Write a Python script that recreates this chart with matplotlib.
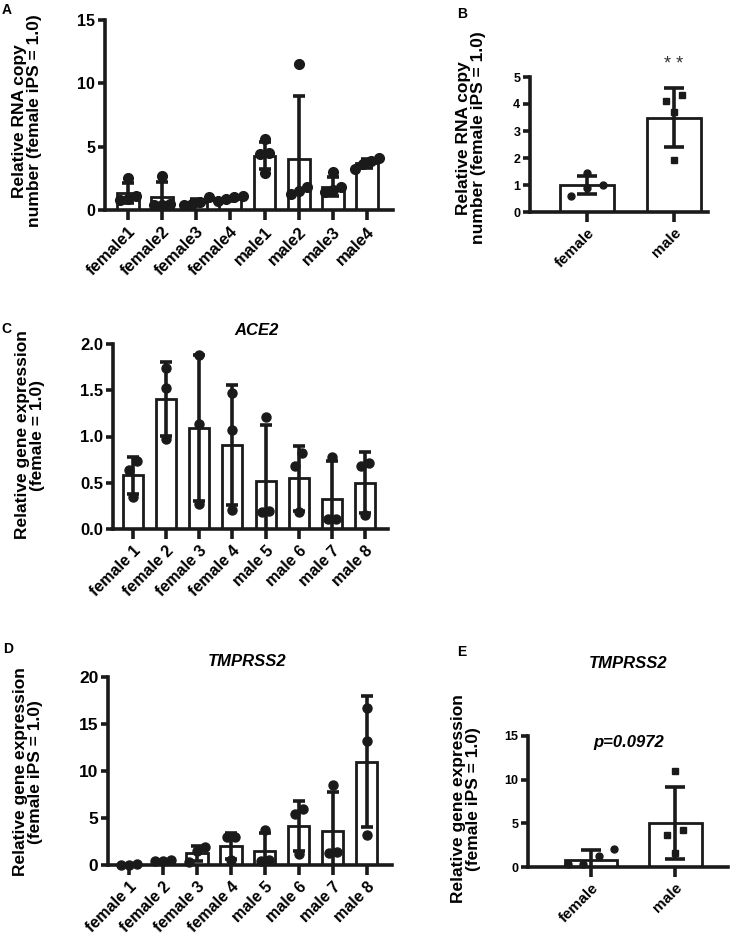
import matplotlib
matplotlib.use("Agg")
import matplotlib.pyplot as plt
import numpy as np

plt.rcParams['font.family'] = ['Liberation Sans', 'DejaVu Sans']
plt.rcParams['font.weight'] = 'bold'

# panel A
a_cats = ['female1', 'female2', 'female3', 'female4', 'male1', 'male2', 'male3', 'male4']
a_mean = [1.35, 1.0, 0.6, 0.9, 4.3, 4.0, 1.85, 3.7]
a_sd = [0.8, 1.2, 0.25, 0.15, 1.1, 5.0, 0.72, 0.35]
a_pts = [[2.5, 1.1, 0.9, 0.8], [2.7, 0.5, 0.4, 0.4], [1.0, 0.6, 0.5, 0.4], [1.1, 1.0, 0.9, 0.7],
         [5.6, 4.5, 4.4, 2.9], [11.5, 1.8, 1.5, 1.3], [3.0, 1.8, 1.6, 1.4], [4.1, 3.9, 3.6, 3.2]]

# panel B
b_cats = ['female', 'male']
b_mean = [1.0, 3.5]
b_sd = [0.35, 1.1]
b_pts = [[1.45, 1.0, 0.9, 0.6], [4.32, 4.1, 3.7, 1.91]]

# panel C (ACE2)
cd_cats = ['female 1', 'female 2', 'female 3', 'female 4', 'male 5', 'male 6', 'male 7', 'male 8']
c_mean = [0.58, 1.41, 1.09, 0.91, 0.52, 0.55, 0.32, 0.50]
c_sd = [0.2, 0.4, 0.79, 0.65, 0.6, 0.35, 0.41, 0.33]
c_pts = [[0.74, 0.64, 0.35], [1.74, 1.52, 0.97], [1.88, 1.13, 0.27], [1.47, 1.07, 0.21],
         [1.21, 0.19, 0.18], [0.82, 0.68, 0.18], [0.78, 0.11, 0.11], [0.71, 0.68, 0.15]]

# panel D (TMPRSS2)
d_mean = [0.05, 0.4, 1.23, 2.05, 1.5, 4.15, 3.65, 11.0]
d_sd = [0.05, 0.1, 0.8, 1.4, 1.9, 2.7, 4.1, 7.0]
d_pts = [[0.1, 0.05, 0.05], [0.5, 0.4, 0.4], [1.9, 1.5, 0.3], [3.0, 3.0, 0.5],
         [3.7, 0.5, 0.4], [5.96, 5.4, 1.2], [8.5, 1.3, 1.4], [16.7, 13.2, 3.2]]

# panel E (TMPRSS2 pooled)
e_cats = ['female', 'male']
e_mean = [0.85, 5.05]
e_sd = [1.1, 4.1]
e_pts = [[2.1, 1.25, 0.35, 0.3], [11.04, 4.2, 3.7, 1.56]]

W, H = 736, 944
fig = plt.figure(figsize=(W / 100, H / 100), dpi=100)
K = '#1a1a1a'


def box(l, t, r, b):
    return [l / W, 1 - b / H, (r - l) / W, (b - t) / H]


def spread(vals, tol, step):
    order = sorted(range(len(vals)), key=lambda i: vals[i])
    xs = [0.0] * len(vals)
    groups, cur = [], [order[0]]
    for i in order[1:]:
        if vals[i] - vals[cur[-1]] < tol:
            cur.append(i)
        else:
            groups.append(cur)
            cur = [i]
    groups.append(cur)
    for g in groups:
        for k, i in enumerate(g):
            xs[i] = (k - (len(g) - 1) / 2) * step
    return xs


def panel(ax, cats, means, sds, pts, xlim, ylim, yticks, markers, ms, step,
          bw=0.62, fs=10, xfs=10, cap=4, fmt=None):
    x = np.arange(len(cats))
    ax.bar(x, means, width=bw, color='white', edgecolor=K, linewidth=2, zorder=1)
    ax.errorbar(x, means, yerr=sds, fmt='none', ecolor=K, elinewidth=2.6,
                capsize=cap, capthick=2.6, zorder=2)
    tol = 0.07 * (ylim[1] - ylim[0])
    for i, p in enumerate(pts):
        xs = spread(p, tol, step)
        ax.plot(i + np.array(xs), p, ls='none', marker=markers[i], ms=ms,
                color=K, zorder=3, clip_on=False)
    ax.set_xlim(*xlim)
    ax.set_ylim(*ylim)
    ax.set_yticks(yticks)
    if fmt:
        ax.set_yticklabels([fmt % v for v in yticks])
    ax.set_xticks(x)
    ax.set_xticklabels(cats, rotation=45, ha='right', rotation_mode='anchor',
                       fontsize=xfs, fontweight='bold')
    for s in ['top', 'right']:
        ax.spines[s].set_visible(False)
    for s in ['left', 'bottom']:
        ax.spines[s].set_linewidth(2.6)
        ax.spines[s].set_color(K)
    ax.tick_params(axis='y', length=5, width=2.6, labelsize=fs, pad=2, color=K)
    ax.tick_params(axis='x', length=7, width=2.6, pad=3, color=K)
    for t in ax.get_yticklabels():
        t.set_fontweight('bold')


axA = fig.add_axes(box(105, 20, 393, 210))
panel(axA, a_cats, a_mean, a_sd, a_pts, (-0.67, 7.76), (0, 15), [0, 5, 10, 15],
      ['o'] * 8, 7, 0.24, bw=0.64, fs=11.5, xfs=12)

axB = fig.add_axes(box(530, 77, 708, 212))
panel(axB, b_cats, b_mean, b_sd, b_pts, (-0.655, 1.39), (0, 5), [0, 1, 2, 3, 4, 5],
      ['o', 's'], 5, 0.18, bw=0.63, fs=9, xfs=11, cap=7)
axB.text(1, 5.45, '* *', ha='center', va='center', fontsize=13, fontweight='normal',
         color='#333333')

axC = fig.add_axes(box(113, 344, 388, 529))
panel(axC, cd_cats, c_mean, c_sd, c_pts, (-0.6, 7.69), (0, 2.0), [0, 0.5, 1.0, 1.5, 2.0],
      ['o'] * 8, 6.5, 0.22, bw=0.6, fs=12, xfs=11.5, fmt='%.1f')
fig.text(257 / W, 1 - 330 / H, 'ACE2', ha='center', va='center', fontsize=12,
         fontstyle='italic', fontweight='bold')

axD = fig.add_axes(box(108, 677, 392, 865))
panel(axD, cd_cats, d_mean, d_sd, d_pts, (-0.62, 7.74), (0, 20), [0, 5, 10, 15, 20],
      ['o'] * 8, 6.5, 0.24, bw=0.62, fs=12.5, xfs=11.5)
fig.text(247 / W, 1 - 662 / H, 'TMPRSS2', ha='center', va='center', fontsize=12,
         fontstyle='italic', fontweight='bold')

axE = fig.add_axes(box(528, 736, 728, 867))
panel(axE, e_cats, e_mean, e_sd, e_pts, (-0.75, 1.63), (0, 15), [0, 5, 10, 15],
      ['o', 's'], 5, 0.18, bw=0.63, fs=9, xfs=11, cap=7)
axE.text(0.45, 14.2, 'p=0.0972', ha='center', va='center', fontsize=12,
         fontstyle='italic', fontweight='bold')
fig.text(628 / W, 1 - 663 / H, 'TMPRSS2', ha='center', va='center', fontsize=12,
         fontstyle='italic', fontweight='bold')

# y labels
ylab_rna = 'Relative RNA copy\nnumber (female iPS = 1.0)'
ylab_gene = 'Relative gene expression\n(female iPS = 1.0)'
for txt, px, py in [(ylab_rna, 27, 121), (ylab_rna, 471, 138),
                    ('Relative gene expression\n(female = 1.0)', 30, 435),
                    (ylab_gene, 28, 772), (ylab_gene, 466, 799)]:
    fig.text(px / W, 1 - py / H, txt, rotation=90, ha='center', va='center',
             multialignment='center', fontsize=12.5, linespacing=1.05)

# panel letters
for lab, px, py in [('A', 7, 10), ('B', 462, 14), ('C', 6, 329), ('D', 8, 649), ('E', 462, 652)]:
    fig.text(px / W, 1 - py / H, lab, ha='center', va='center', fontsize=10, fontweight='bold')

fig.savefig('out.png', dpi=100)
